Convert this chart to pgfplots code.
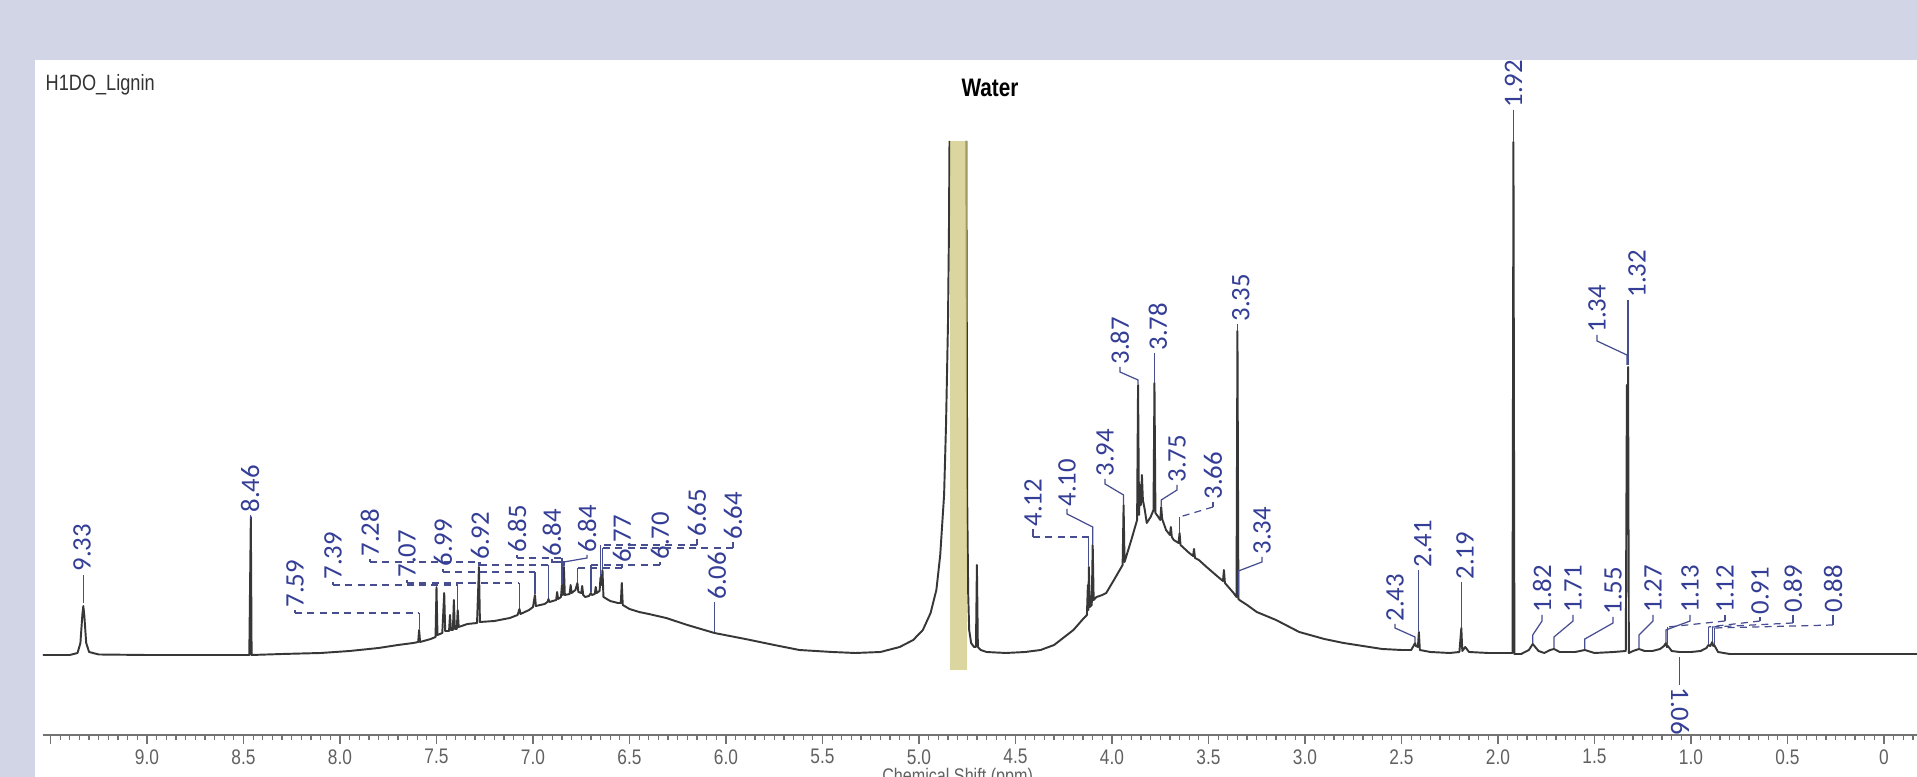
\documentclass[border=0pt]{standalone}
\usepackage{fontspec}
\setmainfont{Liberation Sans}
\newfontfamily\lblfamily{Carlito}
\newfontfamily\narrowfamily[FakeStretch=0.82]{Liberation Sans}
\usepackage{pgfplots}
\pgfplotsset{compat=1.18}

\definecolor{bgpanel}{RGB}{210,213,229}
\definecolor{lblblue}{RGB}{52,62,150}
\definecolor{specline}{RGB}{55,55,55}
\definecolor{waterband}{RGB}{205,198,120}

\tikzset{
  lbl/.style={rotate=90, anchor=west, inner sep=0pt, text=lblblue,
    font=\lblfamily\fontsize{7.6}{8}\selectfont},
  con/.style={draw=lblblue!75!gray, line width=0.35pt},
  cond/.style={con, dash pattern=on 2pt off 1.5pt},
}

% spectrum, ppm vs. height above baseline (1 unit = 0.1 mm)
\pgfplotstableread{
ppm h
9.54 0
9.40 0
9.36 2
9.345 12
9.335 40
9.33 49
9.325 40
9.315 12
9.30 3
9.25 0.5
9.00 0
8.70 0
8.47 0
8.462 138
8.458 0
8.30 1
8.10 2
7.95 4
7.80 7
7.70 10
7.62 12
7.595 13
7.59 25
7.585 13
7.53 16
7.505 18
7.50 68
7.495 20
7.47 22
7.46 62
7.455 24
7.435 24
7.43 40
7.425 25
7.415 25
7.41 55
7.405 26
7.395 26
7.39 45
7.385 28
7.34 31
7.29 32
7.28 88
7.275 33
7.20 34
7.12 37
7.08 40
7.07 46
7.065 41
7.02 45
7.00 48
6.99 60
6.985 49
6.94 51
6.925 53
6.92 56
6.915 53
6.88 55
6.875 63
6.87 56
6.855 58
6.85 70
6.845 60
6.84 88
6.835 60
6.81 61
6.805 70
6.80 62
6.78 65
6.77 72
6.765 63
6.75 62
6.745 69
6.74 60
6.73 58
6.71 59
6.70 62
6.695 60
6.68 61
6.675 68
6.67 62
6.655 64
6.65 78
6.645 70
6.64 85
6.635 58
6.60 54
6.56 52
6.545 52
6.54 72
6.535 50
6.50 46
6.45 43
6.40 41
6.31 37
6.20 30
6.06 22
5.90 16
5.75 10
5.62 5
5.45 3
5.33 2
5.20 3
5.10 8
5.03 15
4.98 25
4.94 42
4.91 65
4.89 100
4.87 160
4.86 230
4.85 330
4.845 420
4.842 514
}\specleft

\pgfplotstableread{
ppm h
4.755 514
4.752 300
4.75 150
4.745 60
4.74 25
4.73 12
4.715 8
4.705 8
4.70 90
4.695 8
4.68 5
4.65 3
4.55 2
4.45 3
4.37 5
4.30 10
4.20 25
4.15 36
4.13 40
4.125 70
4.122 45
4.12 88
4.115 48
4.105 50
4.10 110
4.095 55
4.08 58
4.05 60
4.03 62
3.99 75
3.945 90
3.94 150
3.935 93
3.90 115
3.87 135
3.865 270
3.86 140
3.855 170
3.85 150
3.845 180
3.84 155
3.83 145
3.82 132
3.80 138
3.785 145
3.78 272
3.775 142
3.76 138
3.75 135
3.745 148
3.74 136
3.72 125
3.70 120
3.695 128
3.69 118
3.68 115
3.655 112
3.65 122
3.645 110
3.60 102
3.58 99
3.575 106
3.57 97
3.55 95
3.51 88
3.45 78
3.425 74
3.42 85
3.415 72
3.37 62
3.355 58
3.35 324
3.345 56
3.34 55
3.30 50
3.25 43
3.15 35
3.03 23
2.90 16
2.80 12
2.70 9
2.60 6
2.50 5
2.45 5
2.435 10
2.43 12
2.425 9
2.415 8
2.41 23
2.405 5
2.35 3
2.25 2
2.20 3
2.19 27
2.185 4
2.17 8
2.15 3
2.05 2
1.95 2
1.925 2
1.92 513
1.915 1
1.88 1
1.84 5
1.82 11
1.79 4
1.76 2
1.73 5
1.71 6
1.68 3
1.60 3
1.55 5
1.50 2
1.40 3
1.338 4
1.332 270
1.329 160
1.326 288
1.322 2
1.30 4
1.27 6
1.24 4
1.20 4
1.16 6
1.14 9
1.13 12
1.125 8
1.12 9
1.10 4
1.06 3
1.00 3
0.95 4
0.92 7
0.91 10
0.90 9
0.89 13
0.885 9
0.88 10
0.86 3
0.80 1
0.50 1
0.00 1
-0.17 1
}\specright

\begin{document}
\begin{tikzpicture}
\clip (0,0) rectangle (19.17,7.77);
\fill[bgpanel] (0,0) rectangle (19.17,7.77);
\fill[white] (0.35,0) rectangle (19.17,7.17);
\node[anchor=west, inner sep=0pt, text=black!80,
  font=\narrowfamily\fontsize{6.3}{7}\selectfont] at (0.45,6.92) {H1DO\_Lignin};
\node[inner sep=0pt, font=\narrowfamily\bfseries\fontsize{7.2}{8}\selectfont]
  at (9.90,6.89) {Water};

\begin{axis}[
  at={(0.43cm,0.42cm)}, anchor=south west,
  scale only axis, width=18.74cm, height=6.75cm,
  x dir=reverse,
  xmin=-0.171, xmax=9.539, ymin=-80, ymax=595,
  axis x line*=bottom, axis y line=none,
  axis line style={draw=black!55, line width=0.4pt, -},
  xtick={0,0.5,...,9.5},
  xticklabels={0,0.5,1.0,1.5,2.0,2.5,3.0,3.5,4.0,4.5,5.0,5.5,6.0,6.5,7.0,7.5,8.0,8.5,9.0,{}},
  minor xtick={-0.15,-0.10,...,9.5},
  ytick=\empty,
  tick align=outside,
  major tick length=0.09cm, minor tick length=0.055cm,
  every tick/.style={draw=black!55, line width=0.35pt},
  xticklabel style={font=\narrowfamily\fontsize{6}{7}\selectfont, text=black!62, yshift=0.07cm},
  clip mode=individual,
]
\addplot[specline, line width=0.55pt, line join=round, mark=none] table[x=ppm, y=h] {\specleft};
\addplot[specline, line width=0.55pt, line join=round, mark=none] table[x=ppm, y=h] {\specright};
\addplot[fill=waterband, fill opacity=0.7, draw=none, mark=none]
  coordinates {(4.842,-15) (4.842,514) (4.752,514) (4.752,-15)} -- cycle;

% peak labels: left
\node[lbl] at (axis cs:9.337,83) {9.33};
\draw[con] (axis cs:9.33,80) -- (axis cs:9.33,52);
\node[lbl] at (axis cs:8.466,142) {8.46};
\draw[con] (axis cs:8.462,140) -- (axis cs:8.462,136);

% aromatic cluster
\node[lbl] at (axis cs:8.233,47) {7.59};
\draw[con] (axis cs:8.233,45) -- (axis cs:8.233,42);
\draw[cond] (axis cs:8.233,42) -- (axis cs:7.59,42);
\draw[con] (axis cs:7.59,42) -- (axis cs:7.59,26);
\node[lbl] at (axis cs:8.036,75) {7.39};
\draw[con] (axis cs:8.036,73) -- (axis cs:8.036,70);
\draw[cond] (axis cs:8.036,70) -- (axis cs:7.39,70);
\draw[con] (axis cs:7.39,70) -- (axis cs:7.39,46);
\node[lbl] at (axis cs:7.845,98) {7.28};
\draw[con] (axis cs:7.845,96) -- (axis cs:7.845,93);
\draw[cond] (axis cs:7.845,93) -- (axis cs:7.28,93);
\draw[con] (axis cs:7.28,93) -- (axis cs:7.28,89);
\node[lbl] at (axis cs:7.653,77) {7.07};
\draw[con] (axis cs:7.653,75) -- (axis cs:7.653,72);
\draw[cond] (axis cs:7.653,72) -- (axis cs:7.07,72);
\draw[con] (axis cs:7.07,72) -- (axis cs:7.07,47);
\node[lbl] at (axis cs:7.466,88) {6.99};
\draw[con] (axis cs:7.466,86) -- (axis cs:7.466,83);
\draw[cond] (axis cs:7.466,83) -- (axis cs:6.99,83);
\draw[con] (axis cs:6.99,83) -- (axis cs:6.99,61);
\node[lbl] at (axis cs:7.275,95) {6.92};
\draw[con] (axis cs:7.275,93) -- (axis cs:7.275,90);
\draw[cond] (axis cs:7.275,90) -- (axis cs:6.92,90);
\draw[con] (axis cs:6.92,90) -- (axis cs:6.92,57);
\node[lbl] at (axis cs:7.083,102) {6.85};
\draw[con] (axis cs:7.083,100) -- (axis cs:7.083,97);
\draw[cond] (axis cs:7.083,97) -- (axis cs:6.85,97);
\draw[con] (axis cs:6.85,97) -- (axis cs:6.85,71);
\node[lbl] at (axis cs:6.902,98) {6.84};
\draw[con] (axis cs:6.902,96) -- (axis cs:6.902,93) -- (axis cs:6.84,93) -- (axis cs:6.84,89);
\node[lbl] at (axis cs:6.720,102) {6.84};
\draw[con] (axis cs:6.720,100) -- (axis cs:6.720,97) -- (axis cs:6.84,93);
\node[lbl] at (axis cs:6.539,92) {6.77};
\draw[con] (axis cs:6.539,90) -- (axis cs:6.539,87);
\draw[cond] (axis cs:6.539,87) -- (axis cs:6.77,87);
\draw[con] (axis cs:6.77,87) -- (axis cs:6.77,73);
\node[lbl] at (axis cs:6.342,95) {6.70};
\draw[con] (axis cs:6.342,93) -- (axis cs:6.342,90);
\draw[cond] (axis cs:6.342,90) -- (axis cs:6.70,90);
\draw[con] (axis cs:6.70,90) -- (axis cs:6.70,63);
\node[lbl] at (axis cs:6.150,118) {6.65};
\draw[con] (axis cs:6.150,116) -- (axis cs:6.150,110);
\draw[cond] (axis cs:6.150,110) -- (axis cs:6.65,110);
\draw[con] (axis cs:6.65,110) -- (axis cs:6.65,79);
\node[lbl] at (axis cs:5.964,115) {6.64};
\draw[con] (axis cs:5.964,113) -- (axis cs:5.964,107);
\draw[cond] (axis cs:5.964,107) -- (axis cs:6.64,107);
\draw[con] (axis cs:6.64,107) -- (axis cs:6.64,86);
\node[lbl] at (axis cs:6.047,55) {6.06};
\draw[con] (axis cs:6.06,53) -- (axis cs:6.06,23);

% 4.2 - 3.3 region
\node[lbl] at (axis cs:4.409,128) {4.12};
\draw[con] (axis cs:4.409,126) -- (axis cs:4.409,118);
\draw[cond] (axis cs:4.409,118) -- (axis cs:4.12,118);
\draw[con] (axis cs:4.12,118) -- (axis cs:4.12,89);
\node[lbl] at (axis cs:4.233,148) {4.10};
\draw[con] (axis cs:4.233,146) -- (axis cs:4.233,141) -- (axis cs:4.10,128) -- (axis cs:4.10,111);
\node[lbl] at (axis cs:4.036,178) {3.94};
\draw[con] (axis cs:4.036,176) -- (axis cs:4.036,171) -- (axis cs:3.94,160) -- (axis cs:3.94,151);
\node[lbl] at (axis cs:3.959,290) {3.87};
\draw[con] (axis cs:3.959,288) -- (axis cs:3.959,283) -- (axis cs:3.865,275) -- (axis cs:3.865,271);
\node[lbl] at (axis cs:3.762,304) {3.78};
\draw[con] (axis cs:3.778,302) -- (axis cs:3.778,273);
\node[lbl] at (axis cs:3.663,172) {3.75};
\draw[con] (axis cs:3.663,170) -- (axis cs:3.663,165) -- (axis cs:3.745,155) -- (axis cs:3.745,149);
\node[lbl] at (axis cs:3.477,155) {3.66};
\draw[con] (axis cs:3.477,153) -- (axis cs:3.477,148);
\draw[cond] (axis cs:3.477,148) -- (axis cs:3.65,138);
\draw[con] (axis cs:3.65,138) -- (axis cs:3.65,123);
\node[lbl] at (axis cs:3.332,333) {3.35};
\draw[con] (axis cs:3.35,331) -- (axis cs:3.35,325);
\node[lbl] at (axis cs:3.223,100) {3.34};
\draw[con] (axis cs:3.223,98) -- (axis cs:3.223,93) -- (axis cs:3.345,84) -- (axis cs:3.345,60);

% aliphatic region
\node[lbl] at (axis cs:2.534,33) {2.43};
\draw[con] (axis cs:2.534,31) -- (axis cs:2.534,27) -- (axis cs:2.43,18) -- (axis cs:2.43,13);
\node[lbl] at (axis cs:2.389,87) {2.41};
\draw[con] (axis cs:2.41,85) -- (axis cs:2.41,24);
\node[lbl] at (axis cs:2.171,75) {2.19};
\draw[con] (axis cs:2.19,73) -- (axis cs:2.19,28);
\node[lbl] at (axis cs:1.92,547) {1.92};
\draw[con] (axis cs:1.92,545) -- (axis cs:1.92,514);
\node[lbl] at (axis cs:1.772,42) {1.82};
\draw[con] (axis cs:1.772,40) -- (axis cs:1.772,34) -- (axis cs:1.82,20) -- (axis cs:1.82,12);
\node[lbl] at (axis cs:1.611,42) {1.71};
\draw[con] (axis cs:1.611,40) -- (axis cs:1.611,34) -- (axis cs:1.71,18) -- (axis cs:1.71,7);
\node[lbl] at (axis cs:1.404,40) {1.55};
\draw[con] (axis cs:1.404,38) -- (axis cs:1.404,32) -- (axis cs:1.55,16) -- (axis cs:1.55,6);
\node[lbl] at (axis cs:1.487,322) {1.34};
\draw[con] (axis cs:1.487,320) -- (axis cs:1.487,314) -- (axis cs:1.332,300) -- (axis cs:1.332,290);
\node[lbl] at (axis cs:1.28,357) {1.32};
\draw[con] (axis cs:1.326,355) -- (axis cs:1.326,290);
\node[lbl] at (axis cs:1.197,42) {1.27};
\draw[con] (axis cs:1.197,40) -- (axis cs:1.197,34) -- (axis cs:1.27,20) -- (axis cs:1.27,7);
\node[lbl] at (axis cs:1.005,42) {1.13};
\draw[con] (axis cs:1.005,40) -- (axis cs:1.005,34) -- (axis cs:1.13,25) -- (axis cs:1.13,13);
\node[lbl] at (axis cs:0.824,42) {1.12};
\draw[con] (axis cs:0.824,40) -- (axis cs:0.824,34);
\draw[cond] (axis cs:0.824,34) -- (axis cs:1.12,28);
\draw[con] (axis cs:1.12,28) -- (axis cs:1.12,10);
\node[lbl] at (axis cs:0.642,40) {0.91};
\draw[con] (axis cs:0.642,38) -- (axis cs:0.642,34);
\draw[cond] (axis cs:0.642,34) -- (axis cs:0.91,28);
\draw[con] (axis cs:0.91,28) -- (axis cs:0.91,11);
\node[lbl] at (axis cs:0.472,42) {0.89};
\draw[con] (axis cs:0.472,40) -- (axis cs:0.472,32);
\draw[cond] (axis cs:0.472,32) -- (axis cs:0.89,28);
\draw[con] (axis cs:0.89,28) -- (axis cs:0.89,14);
\node[lbl] at (axis cs:0.264,42) {0.88};
\draw[con] (axis cs:0.264,40) -- (axis cs:0.264,30);
\draw[cond] (axis cs:0.264,30) -- (axis cs:0.88,27);
\draw[con] (axis cs:0.88,27) -- (axis cs:0.88,11);
\node[lbl, rotate=180] at (axis cs:1.057,-32) {1.06};
\draw[con] (axis cs:1.06,-2) -- (axis cs:1.06,-30);

\node[anchor=north, inner sep=0pt, text=black!62,
  font=\narrowfamily\fontsize{5.6}{6}\selectfont] at (axis cs:4.80,-80) [yshift=-0.33cm] {Chemical Shift (ppm)};
\end{axis}
\end{tikzpicture}
\end{document}
